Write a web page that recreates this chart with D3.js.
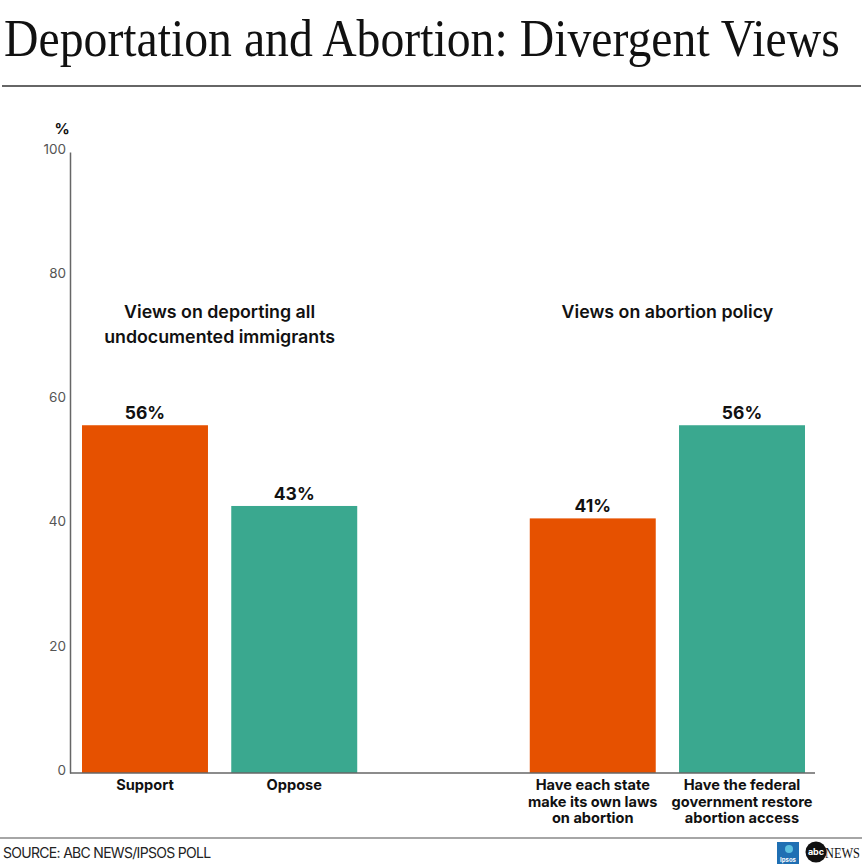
<!DOCTYPE html>
<html><head><meta charset="utf-8">
<script src="https://cdn.jsdelivr.net/npm/d3@7"></script>
<style>body{margin:0;background:#fff}svg{display:block}</style>
</head><body>
<script>
const categories = ["Support","Oppose","","Have each state|make its own laws|on abortion","Have the federal|government restore|abortion access"];
const values = [56, 43, null, 41, 56];
const seriesColors = ["orange","teal",null,"orange","teal"];
const groupTitles = [["Views on deporting all","undocumented immigrants"],["Views on abortion policy"]];
const groupMembers = [[0,1],[3,4]];
const yTicks = [0,20,40,60,80,100];
const colorMap = {orange:"#E65100", teal:"#3AA88F"};

const W=865,H=865;
const svg=d3.select("body").append("svg").attr("width",W).attr("height",H);
const sans="'Inter','Liberation Sans',Arial,sans-serif";

// Title (fit to width via scale)
const title=svg.append("text").attr("x",0).attr("y",0).attr("font-family","'Liberation Serif','DejaVu Serif',serif")
  .attr("font-size",52).attr("fill","#111").text("Deportation and Abortion: Divergent Views");
const tw=title.node().getComputedTextLength();
title.attr("transform",`translate(4,56) scale(${836/tw},1)`);
svg.append("line").attr("x1",2).attr("x2",861).attr("y1",86).attr("y2",86).attr("stroke","#666").attr("stroke-width",2);

const x=d3.scaleBand().domain(d3.range(categories.length)).range([82,805]).paddingInner(0.156).paddingOuter(0);
const y=d3.scaleLinear().domain([0,100]).range([773,152]);

// y axis
const yAxis=svg.append("g").attr("transform","translate(70,0)")
  .call(d3.axisLeft(y).tickValues(yTicks).tickSize(0).tickPadding(4));
yAxis.select(".domain").attr("stroke","#666").attr("stroke-width",1.5);
yAxis.selectAll("text").attr("font-family",sans).attr("font-size",13.5).attr("fill","#555").attr("dy","0.1em");
svg.append("text").attr("x",62).attr("y",134).attr("text-anchor","middle").attr("font-family",sans)
  .attr("font-weight",700).attr("font-size",15).attr("fill","#111").text("%");

// bars
const data=categories.map((c,i)=>({c,i,v:values[i],col:seriesColors[i]})).filter(d=>d.v!=null);
svg.selectAll("rect.bar").data(data).enter().append("rect").attr("class","bar")
  .attr("x",d=>x(d.i)).attr("width",x.bandwidth()).attr("y",d=>y(d.v)).attr("height",d=>y(0)-y(d.v))
  .attr("fill",d=>colorMap[d.col]);
svg.selectAll("text.val").data(data).enter().append("text").attr("class","val")
  .attr("x",d=>x(d.i)+x.bandwidth()/2).attr("y",d=>y(d.v)-6).attr("text-anchor","middle")
  .attr("font-family",sans).attr("font-weight",700).attr("font-size",17.5).attr("fill","#111")
  .text(d=>d.v+"%");

// x axis line
svg.append("line").attr("x1",70).attr("x2",815).attr("y1",y(0)).attr("y2",y(0)).attr("stroke","#666").attr("stroke-width",1.5);

// category labels (one text per line)
data.forEach(d=>{
  d.c.split("|").forEach((l,k)=>svg.append("text").attr("x",x(d.i)+x.bandwidth()/2).attr("y",790+k*16.5)
    .attr("text-anchor","middle").attr("font-family",sans).attr("font-weight",700).attr("font-size",14.6)
    .attr("fill","#111").text(l));
});

// group titles
groupTitles.forEach((lines,g)=>{
  const m=groupMembers[g];
  const cx=(x(m[0])+x(m[m.length-1])+x.bandwidth())/2;
  lines.forEach((l,k)=>svg.append("text").attr("x",cx).attr("y",318+k*25).attr("text-anchor","middle")
    .attr("font-family",sans).attr("font-weight",600).attr("font-size",17.8).attr("fill","#111").text(l));
});

// footer
svg.append("line").attr("x1",0).attr("x2",862).attr("y1",838).attr("y2",838).attr("stroke","#888").attr("stroke-width",1.5);
svg.append("text").attr("x",3).attr("y",858).attr("font-family",sans).attr("font-size",14).attr("fill","#222")
  .attr("letter-spacing","-0.7").text("SOURCE: ABC NEWS/IPSOS POLL");
// logos
svg.append("rect").attr("x",777).attr("y",842).attr("width",22).attr("height",22).attr("fill","#1f6fb3");
svg.append("circle").attr("cx",789).attr("cy",849).attr("r",4).attr("fill","#5cc0e0");
svg.append("text").attr("x",788).attr("y",862).attr("text-anchor","middle").attr("font-family",sans)
  .attr("font-size",6).attr("font-weight",700).attr("fill","#fff").text("Ipsos");
svg.append("circle").attr("cx",816).attr("cy",852).attr("r",10.5).attr("fill","#111");
svg.append("text").attr("x",816).attr("y",855).attr("text-anchor","middle").attr("font-family",sans)
  .attr("font-size",9).attr("font-weight",700).attr("fill","#fff").text("abc");
svg.append("text").attr("x",825).attr("y",858).attr("font-family","'Liberation Serif',serif")
  .attr("font-size",14).attr("fill","#111").attr("textLength",35).attr("lengthAdjust","spacingAndGlyphs").text("NEWS");
</script>
</body></html>
